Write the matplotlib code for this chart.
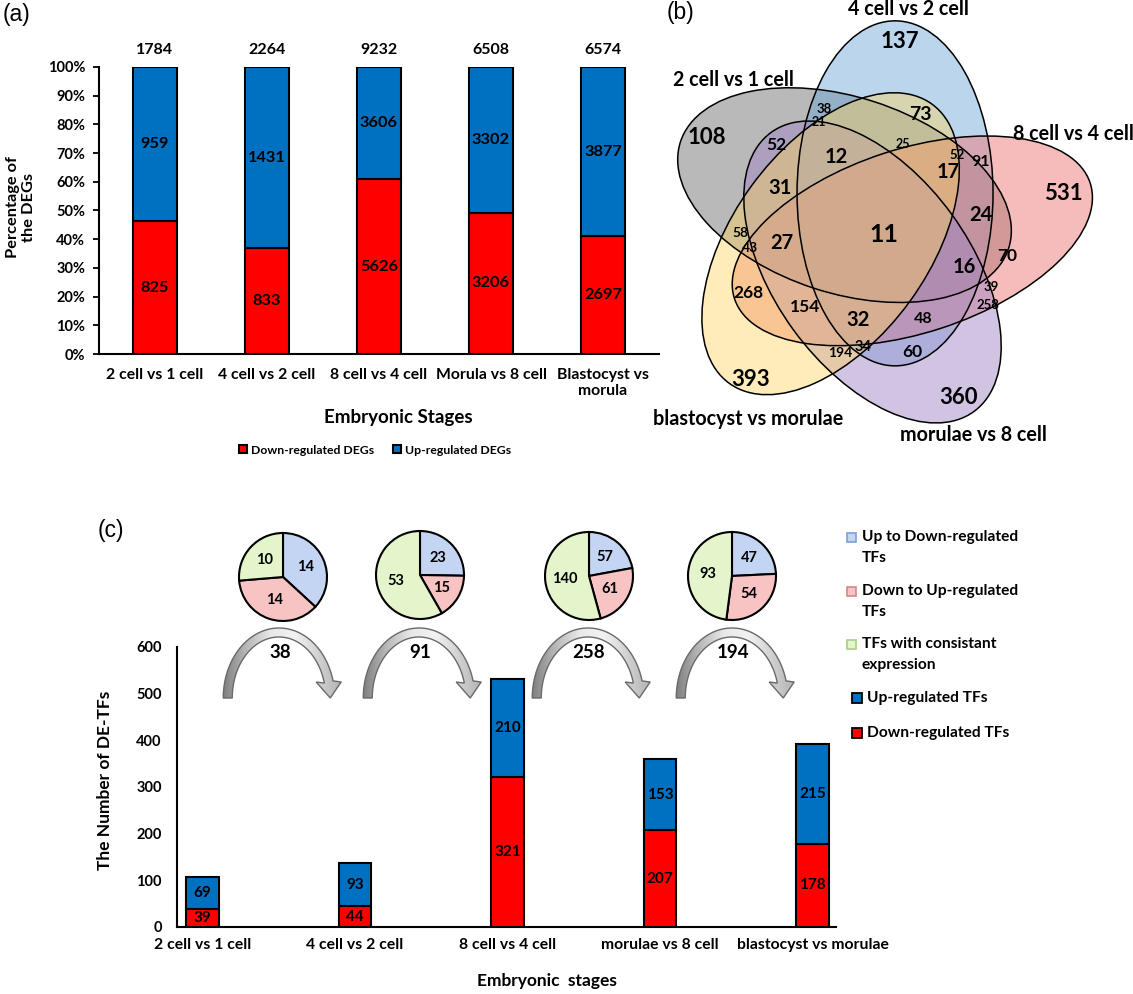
import matplotlib
matplotlib.use('Agg')
import matplotlib.pyplot as plt
import numpy as np
from matplotlib.patches import Ellipse, Polygon, Rectangle
from matplotlib.colors import LinearSegmentedColormap

plt.rcParams['font.family'] = ['Lato', 'DejaVu Sans']
plt.rcParams['font.weight'] = 'bold'
plt.rcParams['axes.labelweight'] = 'bold'
plt.rcParams['axes.linewidth'] = 1.5

W, H = 1133, 994

# ---------------- data: panel (a) ----------------
stages_a = ['2 cell vs 1 cell', '4 cell vs 2 cell', '8 cell vs 4 cell',
            'Morula vs 8 cell', 'Blastocyst vs\nmorula']
down_degs = [825, 833, 5626, 3206, 2697]
up_degs = [959, 1431, 3606, 3302, 3877]
total_degs = [1784, 2264, 9232, 6508, 6574]
pct_ticks = [0, 10, 20, 30, 40, 50, 60, 70, 80, 90, 100]

# ---------------- data: panel (b) ----------------
venn_set_names = ['2 cell vs 1 cell', '4 cell vs 2 cell', '8 cell vs 4 cell',
                  'morulae vs 8 cell', 'blastocyst vs morulae']
venn_counts = [137, 108, 531, 393, 360, 11, 73, 12, 17, 31, 24, 27, 16, 32,
               52, 70, 268, 154, 60, 91, 48, 34, 194, 258, 39, 58, 43, 38,
               21, 25, 52]

# ---------------- data: panel (c) ----------------
stages_c = ['2 cell vs 1 cell', '4 cell vs 2 cell', '8 cell vs 4 cell',
            'morulae vs 8 cell', 'blastocyst vs morulae']
down_tfs = [39, 44, 321, 207, 178]
up_tfs = [69, 93, 210, 153, 215]
tf_ticks = [0, 100, 200, 300, 400, 500, 600]
pie_up_to_down = [14, 23, 57, 47]
pie_down_to_up = [14, 15, 61, 54]
pie_consistent = [10, 53, 140, 93]
transition_totals = [38, 91, 258, 194]
pie_legend = ['Up to Down-regulated\nTFs', 'Down to Up-regulated\nTFs',
              'TFs with consistant\nexpression']
bar_legend = ['Up-regulated TFs', 'Down-regulated TFs']

RED = '#FF0000'
BLUE = '#0070C0'
PIE_COLORS = ['#c3d5f3', '#f7c3c3', '#e4f5cc']
PIE_EDGES = ['#7d9fd6', '#d98686', '#a9cf86']

fig = plt.figure(figsize=(W / 100, H / 100), dpi=100)


def px_axes(l, t, r, b):
    ax = fig.add_axes([l / W, 1 - b / H, (r - l) / W, (b - t) / H])
    ax.patch.set_visible(False)
    return ax


ov = px_axes(0, 0, W, H)
ov.set_xlim(0, W)
ov.set_ylim(H, 0)
ov.axis('off')

PANEL_FONT = dict(family=['Liberation Sans', 'DejaVu Sans'], weight='normal', fontsize=16.5)
ov.text(17, 14, '(a)', ha='center', va='center', **PANEL_FONT)
ov.text(680, 13, '(b)', ha='center', va='center', **PANEL_FONT)
ov.text(111, 531, '(c)', ha='center', va='center', **PANEL_FONT)

# ================= panel (a) =================
axa = px_axes(99, 67, 659, 354)
xa = np.arange(len(stages_a))
tot = np.array(total_degs, dtype=float)
down_pct = np.array(down_degs) / tot * 100
up_pct = np.array(up_degs) / tot * 100
axa.bar(xa, down_pct, 0.4, color=RED, edgecolor='black', lw=1.5,
        label='Down-regulated DEGs', zorder=3)
axa.bar(xa, up_pct, 0.4, bottom=down_pct, color=BLUE, edgecolor='black',
        lw=1.5, label='Up-regulated DEGs', zorder=3)
for i in range(len(xa)):
    axa.text(xa[i], down_pct[i] / 2, str(down_degs[i]), ha='center',
             va='center', fontsize=11.8, zorder=4)
    axa.text(xa[i], down_pct[i] + up_pct[i] / 2, str(up_degs[i]),
             ha='center', va='center', fontsize=11.8, zorder=4)
    axa.annotate(str(total_degs[i]), xy=(xa[i], 100), xytext=(0, 12.5),
                 textcoords='offset points', ha='center', va='center',
                 fontsize=11.5, fontweight='bold', annotation_clip=False)
axa.set_xlim(-0.5, 4.5)
axa.set_ylim(0, 100)
axa.set_yticks(pct_ticks)
axa.set_yticklabels([f'{v}%' for v in pct_ticks], fontsize=10.5, fontweight='bold')
axa.set_xticks(xa)
axa.set_xticklabels(stages_a, fontsize=11.3, linespacing=1.15, fontweight='bold')
axa.tick_params(axis='x', length=0, pad=10)
axa.tick_params(axis='y', length=4, width=1.3, pad=6)
for s in ('top', 'right'):
    axa.spines[s].set_visible(False)
axa.set_xlabel('Embryonic Stages', fontsize=13.5)
axa.xaxis.set_label_coords((398 - 99) / 560, (354 - 418) / 287)
axa.xaxis.label.set_va('center')
axa.set_ylabel('Percentage of\nthe DEGs', fontsize=11.8, linespacing=1.1)
axa.yaxis.set_label_coords((21 - 99) / 560, (354 - 207) / 287)
axa.yaxis.label.set_va('center')
axa.legend(loc='center', bbox_to_anchor=(375 / W, 1 - 450 / H),
           bbox_transform=fig.transFigure, ncol=2, frameon=False,
           prop=dict(size=8.8, weight='bold'), handlelength=0.65,
           handleheight=0.65, handletextpad=0.3, columnspacing=1.6)

# ================= panel (b): Venn =================
C = (871.0, 229.0)
R_OFF = 43.0
venn_phi = [128, 56, -16, 272, 200]          # centre direction (deg)
venn_theta = [162, 90, 18, 306, 234]         # long-axis orientation (deg)
venn_a = [172.5, 172.5, 187, 172.5, 172.5]
venn_b = [98, 98, 92, 98, 98]
venn_fill = ['#7a7a7a', '#6aa3d8', '#ee7a7a', '#9f85c4', '#ffd35c']
venn_alpha = [0.52, 0.45, 0.5, 0.48, 0.42]
venn_centres = []
for k in range(5):
    phi = np.radians(venn_phi[k])
    venn_centres.append((C[0] + R_OFF * np.cos(phi), C[1] - R_OFF * np.sin(phi)))
for k in range(5):
    e = Ellipse(venn_centres[k], 2 * venn_a[k], 2 * venn_b[k], angle=-venn_theta[k],
                facecolor=venn_fill[k], alpha=venn_alpha[k], edgecolor='none')
    ov.add_patch(e)
for k in range(5):
    e = Ellipse(venn_centres[k], 2 * venn_a[k], 2 * venn_b[k], angle=-venn_theta[k],
                facecolor='none', edgecolor='black', lw=1.1)
    ov.add_patch(e)

venn_label_layout = [
    (900, 42, 16), (707, 138, 16), (1063, 193, 16), (751, 380, 16), (958, 398, 16),
    (884, 234, 18), (920, 115, 14), (836, 157, 14.5), (948, 172, 14.5),
    (780, 188, 14.5), (981, 215, 14.5), (782, 243, 14.5), (964, 267, 14.5),
    (858, 320, 14.5), (776, 145, 12.5), (1007, 256, 12.5), (748, 293, 12.5),
    (805, 307, 12.5), (912, 352, 12.5), (981, 162, 11.5), (923, 319, 11.5),
    (863, 347, 10.5), (840, 353, 10), (988, 305, 9.5), (991, 287, 9.5),
    (740, 233, 10), (750, 248, 10), (824, 109, 9.5), (819, 122, 9),
    (903, 144, 9), (957, 155, 9.5)]
for val, (lx, ly, fs) in zip(venn_counts, venn_label_layout):
    ov.text(lx, ly, str(val), ha='center', va='center', fontsize=fs)

venn_name_layout = [(733, 80), (908, 9), (1073, 134), (973, 435), (748, 419)]
for name, (lx, ly) in zip(venn_set_names, venn_name_layout):
    ov.text(lx, ly, name, ha='center', va='center', fontsize=14.2)

# ================= panel (c): bars =================
axc = px_axes(177, 647, 836, 927)
xc = np.arange(len(stages_c))
axc.bar(xc, down_tfs, 0.216, color=RED, edgecolor='black', lw=1.5, zorder=3)
axc.bar(xc, up_tfs, 0.216, bottom=down_tfs, color=BLUE, edgecolor='black',
        lw=1.5, zorder=3)
for i in range(len(xc)):
    axc.text(xc[i], down_tfs[i] / 2, str(down_tfs[i]), ha='center',
             va='center', fontsize=11, zorder=4)
    axc.text(xc[i], down_tfs[i] + up_tfs[i] / 2, str(up_tfs[i]), ha='center',
             va='center', fontsize=11, zorder=4)
axc.set_xlim((177 - 202.5) / 152.5, (836 - 202.5) / 152.5)
axc.set_ylim(0, 600)
axc.set_yticks(tf_ticks)
axc.set_yticklabels([str(v) for v in tf_ticks], fontsize=10.5, fontweight='bold')
axc.set_xticks(xc)
axc.set_xticklabels(stages_c, fontsize=11.3, fontweight='bold')
axc.tick_params(axis='x', length=0, pad=8)
axc.tick_params(axis='y', length=0, pad=11)
for s in ('top', 'right'):
    axc.spines[s].set_visible(False)
axc.set_xlabel('Embryonic  stages', fontsize=12.5)
axc.xaxis.set_label_coords((547 - 177) / 659, (927 - 981) / 280)
axc.xaxis.label.set_va('center')
axc.set_ylabel('The Number of DE-TFs', fontsize=12.5)
axc.yaxis.set_label_coords((105 - 177) / 659, (927 - 780) / 280)
axc.yaxis.label.set_va('center')

# ================= panel (c): pies =================
pie_centres = [(283, 577), (420, 575), (589, 576), (732, 576)]
PR = 44
for j, (px, py) in enumerate(pie_centres):
    vals = [pie_up_to_down[j], pie_down_to_up[j], pie_consistent[j]]
    axp = px_axes(px - PR * 1.05, py - PR * 1.05, px + PR * 1.05, py + PR * 1.05)
    total = sum(vals)
    axp.pie(vals, colors=PIE_COLORS, startangle=90, counterclock=False,
            wedgeprops=dict(edgecolor='black', linewidth=1.5),
            autopct=lambda p, t=total: f'{round(p * t / 100)}',
            pctdistance=0.56, textprops=dict(fontsize=10.5, fontweight='bold'))
    axp.set_xlim(-1.05, 1.05)
    axp.set_ylim(-1.05, 1.05)
    axp.set_aspect('equal')

# ================= panel (c): curved arrows =================
grad_cmap = LinearSegmentedColormap.from_list(
    'g', ['#7d7d7d', '#b8b8b8', '#e8e8e8', '#f2f2f2', '#d0d0d0', '#b0b0b0'])
arrow_cx = [279, 419, 588, 732]
for j, cx in enumerate(arrow_cx):
    base, a, b, w, head_y, hw = 698, 51.25, 65.5, 4.5, 682, 12.5
    te = np.arcsin((base - head_y) / b)
    t = np.linspace(np.pi, te, 80)
    outer = np.c_[cx + (a + w) * np.cos(t), base - (b + w) * np.sin(t)]
    inner = np.c_[cx + (a - w) * np.cos(t[::-1]), base - (b - w) * np.sin(t[::-1])]
    xe = cx + a * np.cos(te)
    head = np.array([(xe + hw, head_y), (cx + a, base), (xe - hw, head_y)])
    pts = np.vstack([outer, head, inner])
    poly = Polygon(pts, closed=True, facecolor='none', edgecolor='#6a6a6a',
                   lw=1.0, zorder=3)
    ov.add_patch(poly)
    grad = np.linspace(0, 1, 256).reshape(1, -1)
    im = ov.imshow(grad, cmap=grad_cmap, aspect='auto',
                   extent=(cx - a - w - 1, cx + a + hw + 1, base + 1, base - b - w - 1),
                   interpolation='bilinear', zorder=2)
    im.set_clip_path(poly)
    ov.text(cx + 1, 652, str(transition_totals[j]), ha='center', va='center',
            fontsize=13.5)
ov.set_xlim(0, W)
ov.set_ylim(H, 0)

# ================= panel (c): legend =================
sq = 9
pie_leg_y = [537, 591, 644]
for k, lab in enumerate(pie_legend):
    y = pie_leg_y[k]
    ov.add_patch(Rectangle((847, y - sq / 2), sq, sq, facecolor=PIE_COLORS[k],
                           edgecolor=PIE_EDGES[k], lw=1.2))
    first, second = lab.split('\n')
    ov.text(862, y, first, ha='left', va='center', fontsize=11.2)
    ov.text(862, y + 21, second, ha='left', va='center', fontsize=11.2)
bar_leg_y = [698, 733]
bar_cols = [BLUE, RED]
for k, lab in enumerate(bar_legend):
    y = bar_leg_y[k]
    ov.add_patch(Rectangle((852, y - 5), 10, 10, facecolor=bar_cols[k],
                           edgecolor='black', lw=1.3))
    ov.text(867, y, lab, ha='left', va='center', fontsize=11.2)

fig.savefig('out.png', dpi=100)
